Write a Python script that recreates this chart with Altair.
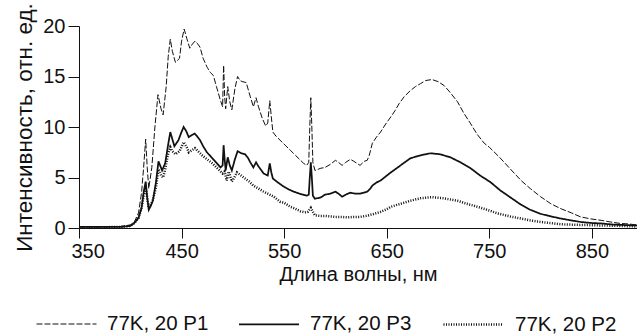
import altair as alt
import pandas as pd

series_names = ["77K, 20 P1", "77K, 20 P3", "77K, 20 P2"]
x_ticks = [350, 450, 550, 650, 750, 850]
y_ticks = [0, 5, 10, 15, 20]

p1_nm = [350, 370, 390, 400, 404, 408, 411, 413, 415, 416.5, 418, 421, 424, 427, 430, 432, 435, 437, 439, 441,
         444, 448, 450, 452.5, 455, 458, 460.5, 463, 466, 468, 471, 475, 478, 481, 484, 488, 490, 491, 492, 493,
         495, 497, 499, 502, 504.6, 507, 509, 513, 517, 520, 522.6, 525, 528.5, 532, 534, 536, 537.5, 539, 542,
         546, 551, 556, 561, 566, 569, 572, 574, 575, 576, 577, 578, 580, 583, 585, 590, 595, 600, 603, 606.5,
         610, 614.6, 618, 621, 624, 628, 631, 633, 636, 640, 644, 649, 654, 658, 662, 667, 673, 678, 683, 688,
         694, 700, 706, 712, 719, 725, 732, 738, 745, 750, 760, 770, 781, 790, 800, 810, 820, 830, 839, 849, 859,
         868, 878, 886, 894]
p1_val = [0.1, 0.1, 0.15, 0.3, 0.6, 1.5, 3.5, 6.0, 8.8, 6.0, 3.9, 6.0, 10.0, 13.2, 11.8, 11.2, 14.0, 17.0, 18.7, 17.5,
          16.4, 16.8, 18.5, 19.7, 18.8, 17.8, 18.2, 18.5, 18.2, 17.9, 16.8, 15.9, 15.4, 15.1, 14.0, 12.6, 12.0, 16.1, 13.0, 11.8,
          14.0, 12.5, 11.7, 13.8, 15.0, 14.6, 14.5, 14.4, 13.0, 12.0, 12.9, 12.0, 10.9, 10.1, 10.4, 12.6, 11.0, 9.5, 9.1,
          8.7, 8.2, 7.7, 7.2, 6.7, 6.4, 6.2, 6.5, 10.0, 12.9, 10.0, 6.5, 5.7, 5.8, 5.9, 6.0, 6.3, 6.7, 6.5, 6.2,
          6.5, 6.8, 6.6, 6.4, 6.2, 6.6, 6.7, 7.2, 8.4, 9.0, 9.5, 10.3, 11.0, 11.6, 12.3, 13.0, 13.6, 14.0, 14.3, 14.6,
          14.7, 14.5, 14.1, 13.4, 12.5, 11.4, 10.3, 9.3, 8.4, 8.0, 7.0, 5.9, 4.7, 3.9, 3.1, 2.4, 1.9, 1.5, 1.1, 0.9, 0.76,
          0.6, 0.45, 0.4, 0.3]

p3_nm = [350, 390, 400, 404, 408, 411, 413, 415, 416.5, 418, 420, 422, 425, 427.5, 431, 434, 436.5, 439, 441, 443,
         447, 449.5, 452, 454.5, 457, 460, 462.7, 465, 468, 471, 474.7, 480, 484.5, 488, 490, 491, 492, 493, 495, 497,
         499, 502, 504.6, 508, 512, 515, 517, 520, 522.6, 525, 530, 534, 536, 537.5, 539, 544, 549.5, 555, 559.3, 565,
         572, 574, 575, 576, 577, 578, 580, 585, 590, 595, 600, 603, 606.5, 610, 614.6, 619, 624, 628, 631, 634, 636,
         640, 644, 649, 654, 663.5, 673, 683, 692.8, 702, 712, 722, 732, 741, 751, 761, 771, 781, 790, 800, 810, 820,
         830, 839, 849, 859, 870, 880, 894]
p3_val = [0.1, 0.1, 0.2, 0.5, 1.0, 2.0, 3.5, 4.6, 3.0, 1.8, 2.2, 2.7, 4.5, 6.6, 5.7, 6.4, 8.0, 9.5, 8.8, 8.1,
          8.7, 9.4, 10.0, 9.6, 9.0, 9.2, 9.35, 9.1, 8.7, 8.1, 7.5, 6.9, 6.4, 6.0, 6.2, 8.2, 6.8, 5.7, 7.0, 6.2,
          5.7, 6.8, 7.6, 7.4, 7.3, 6.9, 6.5, 6.0, 6.5, 6.1, 5.4, 5.2, 6.4, 5.5, 4.9, 4.5, 4.1, 3.8, 3.6, 3.4,
          3.2, 3.3, 5.0, 6.5, 5.0, 3.2, 2.9, 3.0, 3.3, 3.4, 3.6, 3.4, 3.1, 3.3, 3.5, 3.4, 3.4, 3.5, 3.6, 3.9, 4.2,
          4.5, 4.7, 5.1, 5.5, 6.2, 6.9, 7.2, 7.4, 7.3, 7.0, 6.5, 5.9, 5.2, 4.55, 3.7, 3.0, 2.3, 1.8, 1.4, 1.15, 0.93,
          0.75, 0.6, 0.5, 0.45, 0.35, 0.3, 0.25]

p2_nm = [350, 390, 400, 404, 408, 411, 413, 415, 416.5, 418, 420, 422, 425, 427.5, 430, 432, 434, 436.5, 439, 441,
         444, 448, 452, 455, 457, 460, 463, 466, 470, 475, 480, 485, 490, 492, 494, 496, 499, 501.5, 504, 508,
         512, 516, 520, 525, 530, 535, 540, 546, 550, 556, 560, 566, 570, 573, 576, 578, 580, 585, 590, 595,
         600, 605, 612, 618, 624, 630, 636, 644, 650, 654, 662, 673, 683, 694, 705, 719, 728, 738.5, 748, 758,
         770, 781, 790, 800, 810, 820, 840, 860, 880, 894]
p2_val = [0.05, 0.1, 0.2, 0.5, 1.0, 2.0, 3.2, 4.0, 3.0, 2.0, 2.3, 2.8, 4.0, 5.8, 5.2, 5.0, 5.8, 7.2, 8.0, 7.6,
          7.3, 7.6, 8.5, 8.0, 7.5, 7.7, 7.9, 7.6, 7.2, 6.8, 6.4, 5.9, 5.4, 5.6, 4.7, 5.6, 4.6, 5.0, 5.5, 5.2,
          4.9, 4.6, 4.2, 3.9, 3.6, 3.35, 3.1, 2.6, 2.5, 2.1, 1.95, 1.65, 1.55, 1.6, 2.0, 1.6, 1.25, 1.2, 1.2, 1.15,
          1.1, 1.1, 1.05, 1.1, 1.1, 1.2, 1.35, 1.6, 1.85, 2.1, 2.35, 2.7, 2.95, 3.05, 2.95, 2.7, 2.4, 2.1, 1.8, 1.45,
          1.15, 0.93, 0.75, 0.6, 0.48, 0.37, 0.3, 0.25, 0.2, 0.15]

rows = []
for name, xs, ys in [(series_names[0], p1_nm, p1_val),
                     (series_names[1], p3_nm, p3_val),
                     (series_names[2], p2_nm, p2_val)]:
    for x, y in zip(xs, ys):
        rows.append({"nm": x, "I": y, "s": name})
df = pd.DataFrame(rows)

FONT = "Liberation Sans"
legend = alt.Legend(
    title=None, orient="none", legendX=-43, legendY=267, direction="horizontal",
    symbolType="stroke", symbolSize=3600, symbolStrokeColor="#111",
    labelFont=FONT, labelFontSize=20.5, labelColor="#111", labelOffset=10,
    columnPadding=26, padding=0, symbolOpacity=1,
)

chart = alt.Chart(df).mark_line(clip=True, color="#111").encode(
    x=alt.X("nm:Q", scale=alt.Scale(domain=[350, 894], nice=False, zero=False),
            axis=alt.Axis(values=x_ticks, title="Длина волны, нм", grid=False, tickSize=10,
                          labelPadding=3, titlePadding=3, labelFlush=True, labelFlushOffset=8)),
    y=alt.Y("I:Q", scale=alt.Scale(domain=[0, 20], nice=False),
            axis=alt.Axis(values=y_ticks, title="Интенсивность, отн. ед.", grid=False, tickSize=11,
                          labelPadding=3, titlePadding=6, titleFontSize=22.5)),
    strokeDash=alt.StrokeDash("s:N", scale=alt.Scale(domain=series_names, range=[[6, 2], [1, 0], [1, 1.5]]),
                              legend=legend),
    strokeWidth=alt.StrokeWidth("s:N", scale=alt.Scale(domain=series_names, range=[1.0, 2.5, 1.0]),
                                legend=legend),
).properties(
    width=558, height=202,
    padding={"left": 79, "top": 26, "right": 0, "bottom": 106},
    autosize=alt.AutoSizeParams(type="none"),
).configure_view(stroke=None).configure_axis(
    labelFont=FONT, titleFont=FONT, labelFontSize=20, titleFontSize=20, titleFontWeight="normal",
    labelColor="#111", titleColor="#111", domainColor="#111", tickColor="#111",
)

chart.save("out.html", embed_options={"renderer": "svg", "actions": False})
